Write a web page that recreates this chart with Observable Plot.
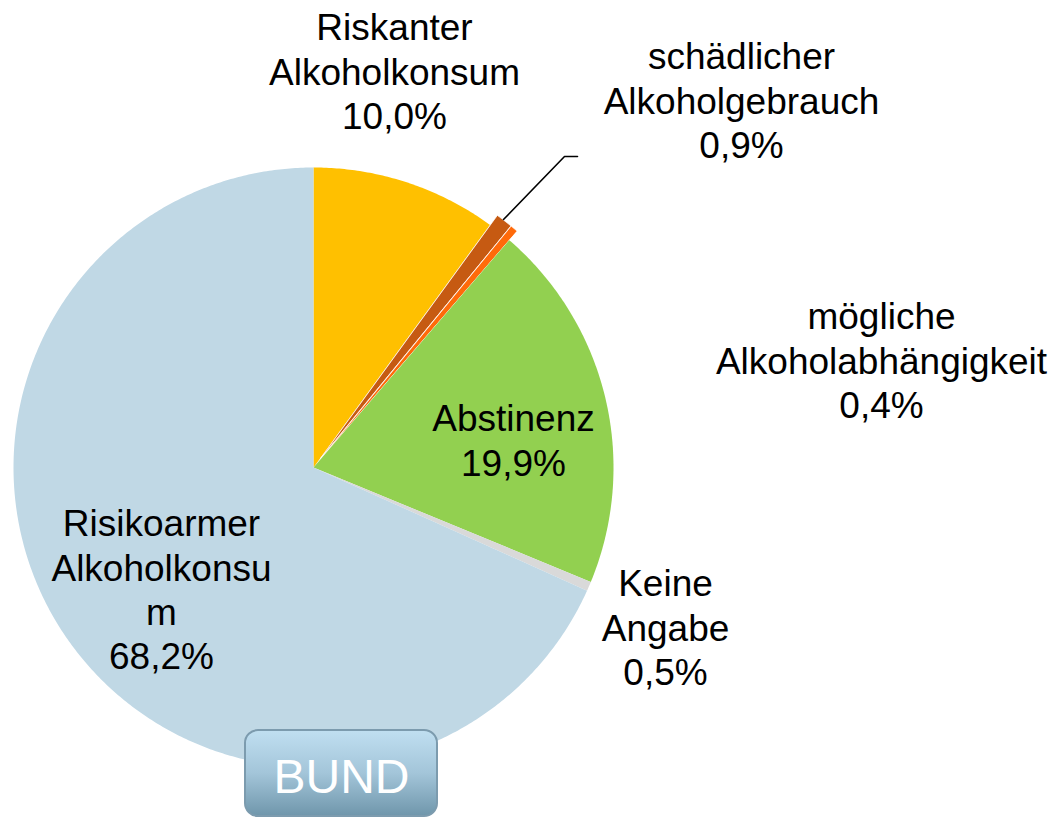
<!DOCTYPE html>
<html>
<head>
<meta charset="utf-8">
<script src="https://cdn.jsdelivr.net/npm/d3@7"></script>
<script src="https://cdn.jsdelivr.net/npm/@observablehq/plot@0.6"></script>
<style>
  html, body { margin: 0; padding: 0; background: #fff; }
  #chart svg { display: block; }
</style>
</head>
<body>
<div id="chart"></div>
<script>
// ---- data ----
const names = ["Riskanter Alkoholkonsum", "schädlicher Alkoholgebrauch", "mögliche Alkoholabhängigkeit", "Abstinenz", "Keine Angabe", "Risikoarmer Alkoholkonsum"];
const values = [10.0, 0.9, 0.4, 19.9, 0.5, 68.2];
const labelNames = ["Riskanter\nAlkoholkonsum", "schädlicher\nAlkoholgebrauch", "mögliche\nAlkoholabhängigkeit", "Abstinenz", "Keine\nAngabe", "Risikoarmer\nAlkoholkonsu\nm"];
const badgeText = "BUND";

// ---- style / layout ----
const colors = ["#FFC000", "#C65A12", "#FF6A0A", "#92D050", "#D9D9D9", "#C0D8E5"];
const explode = [0, 12, 12, 0, 0, 0];
const W = 1057, H = 818;
const cx = 313, cy = 467, R = 300;
const fontSize = 37;
// label anchor: center x, first-line baseline
const labelPos = [[394, 35], [741, 64], [881, 324], [513, 426], [665, 591], [161, 531]];

const fmt = v => v.toFixed(1).replace(".", ",") + "%";

// build slice polygons from values
const arcs = d3.pie().sort(null).value(d => d)(values);
const slicePts = [];
arcs.forEach((a, i) => {
  const mid = (a.startAngle + a.endAngle) / 2;
  const ox = explode[i] * Math.sin(mid), oy = -explode[i] * Math.cos(mid);
  const ccx = cx + ox, ccy = cy + oy;
  slicePts.push({k: i, x: ccx, y: ccy});
  const n = Math.max(2, Math.ceil((a.endAngle - a.startAngle) / (Math.PI / 360)));
  for (let j = 0; j <= n; j++) {
    const t = a.startAngle + (a.endAngle - a.startAngle) * j / n;
    slicePts.push({k: i, x: ccx + R * Math.sin(t), y: ccy - R * Math.cos(t)});
  }
});

const labels = names.map((n, i) => ({
  text: labelNames[i] + "\n" + fmt(values[i]),
  x: labelPos[i][0],
  y: labelPos[i][1] - 0.71 * fontSize
}));

// leader line for "schädlicher Alkoholgebrauch"
const leader = [{x: 503, y: 219}, {x: 564, y: 156}, {x: 577, y: 156}];

const defs = () => {
  const d = d3.create("svg:defs");
  const g = d.append("linearGradient").attr("id", "bundGrad").attr("x1", 0).attr("y1", 0).attr("x2", 0).attr("y2", 1);
  g.append("stop").attr("offset", "0%").attr("stop-color", "#C0DFF1");
  g.append("stop").attr("offset", "50%").attr("stop-color", "#A3C5D9");
  g.append("stop").attr("offset", "100%").attr("stop-color", "#6F96AB");
  return d.node();
};

const chart = Plot.plot({
  width: W,
  height: H,
  margin: 0,
  x: {domain: [0, W], range: [0, W], axis: null},
  y: {domain: [0, H], range: [0, H], axis: null},
  style: {fontFamily: "'Liberation Sans', Arial, Helvetica, sans-serif", background: "#fff", overflow: "visible"},
  marks: [
    defs,
    Plot.line(slicePts, {
      x: "x", y: "y", z: "k",
      fill: d => colors[d.k],
      stroke: d => explode[d.k] > 0 ? "#fff" : "none",
      strokeWidth: 0.7,
      curve: "linear-closed"
    }),
    Plot.line(leader, {x: "x", y: "y", stroke: "#000", strokeWidth: 1.6}),
    Plot.text(labels, {
      x: "x", y: "y", text: "text",
      fontSize: fontSize, lineHeight: 1.19, lineAnchor: "top",
      textAnchor: "middle", fill: "#000"
    }),
    Plot.rect([{x1: 245, x2: 437, y1: 730, y2: 816}], {
      x1: "x1", x2: "x2", y1: "y1", y2: "y2",
      rx: 13, fill: "url(#bundGrad)", stroke: "#7C9BAE", strokeWidth: 2
    }),
    Plot.text([badgeText], {
      x: () => 341, y: () => 792, text: d => d,
      fontSize: 48, fill: "#fff", textAnchor: "middle", lineAnchor: "bottom"
    })
  ]
});

document.getElementById("chart").appendChild(chart);
</script>
</body>
</html>
